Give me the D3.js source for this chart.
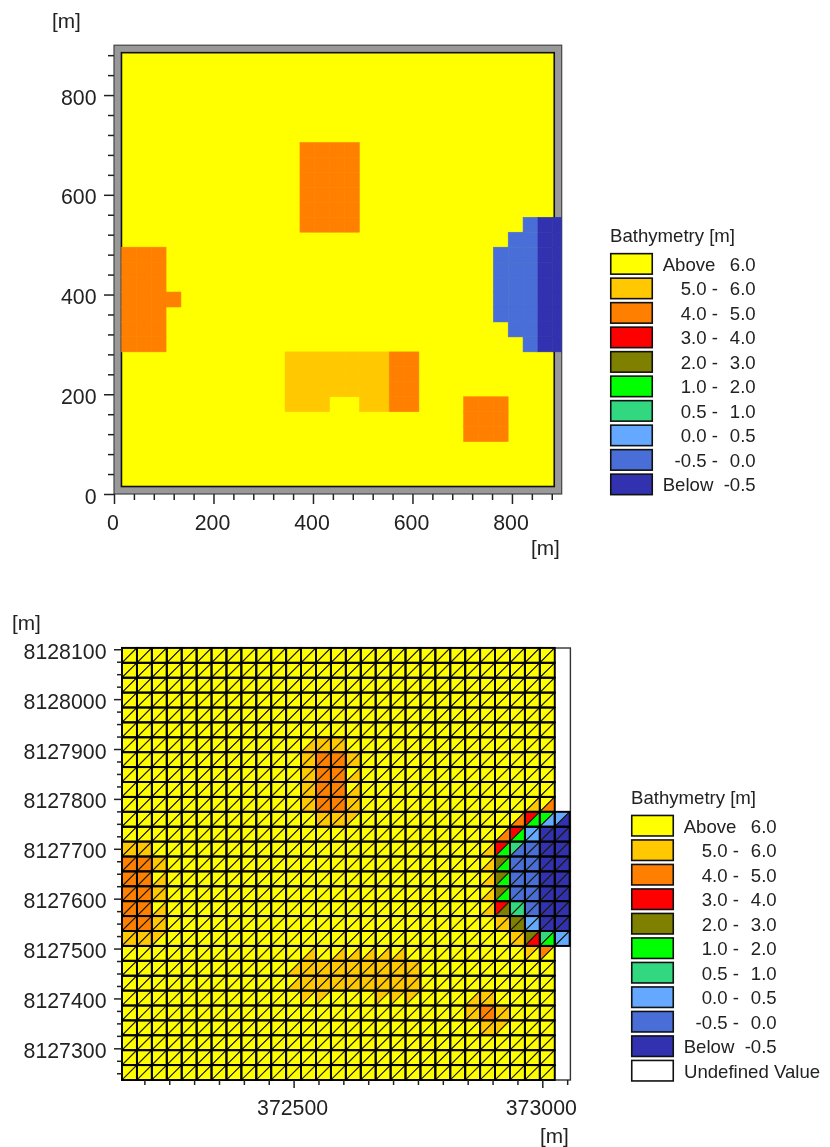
<!DOCTYPE html>
<html><head><meta charset="utf-8">
<script src="https://cdn.jsdelivr.net/npm/d3@7/dist/d3.min.js"></script>
<style>
html,body{margin:0;padding:0;background:#fff}
svg{display:block;filter:blur(0.35px)}
text{font-family:"Liberation Sans",Arial,sans-serif;fill:#222}
</style></head><body>
<svg id="c" width="830" height="1147"></svg>
<script>
const classColors=["#ffff00","#ffc800","#ff8000","#ff0000","#808000","#00ff00","#32d880","#64a8ff","#4a6ed8","#3232b0"];
const legendLeft=["Above","5.0 -","4.0 -","3.0 -","2.0 -","1.0 -","0.5 -","0.0 -","-0.5 -","Below"];
const legendRight=["6.0","6.0","5.0","4.0","3.0","2.0","1.0","0.5","0.0","-0.5"];
const legendTitle="Bathymetry [m]";
const undefinedLabel="Undefined Value";

// Gridded surface, bottom row first; one class digit per 30 m cell, "." = no data
const surfaceRows=[
"00000000000000000000000000000.",
"00000000000000000000000000000.",
"00000000000000000000000000000.",
"00000000000000000000000222000.",
"00000000000000000000000222000.",
"00000000000111001122000222000.",
"00000000000111111122000000000.",
"00000000000111111122000000000.",
"00000000000111111122000000000.",
"222000000000000000000000000899",
"222000000000000000000000008899",
"222000000000000000000000088899",
"222200000000000000000000088899",
"222000000000000000000000088899",
"222000000000000000000000088899",
"222000000000000000000000088899",
"000000000000000000000000008899",
"000000000000222200000000000899",
"00000000000022220000000000000.",
"00000000000022220000000000000.",
"00000000000022220000000000000.",
"00000000000022220000000000000.",
"00000000000022220000000000000.",
"00000000000000000000000000000.",
"00000000000000000000000000000.",
"00000000000000000000000000000.",
"00000000000000000000000000000.",
"00000000000000000000000000000.",
"00000000000000000000000000000."
];
const surfaceOrigin=15, surfaceCellX=29.9, surfaceCellY=30;
const topMajorX=[0,200,400,600,800], topMajorY=[0,200,400,600,800];
const topMinor=[40,80,120,160,240,280,320,360,440,480,520,560,640,680,720,760,840,880];

// Triangular mesh: [row, col, upper-left class, lower-right class]; other cells are class 0
const meshRows=29, meshCols=29, meshExtraColRows=[9,10,11,12,13,14,15,16,17];
const meshX0=372155, meshY0=8127236.5, meshDx=30, meshDy=29.87;
const meshPatches=[
[3,24,1,1],[3,25,1,0],[4,23,1,1],[4,24,2,2],[4,25,1,1],[5,23,0,1],[5,24,1,1],
[5,12,1,0],[5,13,1,0],[5,17,1,0],[5,18,1,0],[5,19,1,0],
[6,11,0,1],[6,12,1,1],[6,13,1,1],[6,14,1,1],[6,15,1,1],[6,16,1,1],[6,17,1,1],[6,18,1,1],[6,19,1,1],
[7,11,0,1],[7,12,1,1],[7,13,1,1],[7,14,1,1],[7,15,1,1],[7,16,1,1],[7,17,1,1],[7,18,1,1],[7,19,1,1],
[8,12,0,1],[8,14,0,1],[8,15,0,1],[8,16,0,1],[8,17,0,1],[8,18,0,1],
[8,27,1,0],[8,28,2,0],
[9,0,1,1],[9,1,1,1],[9,2,1,0],
[9,26,1,1],[9,27,4,3],[9,28,6,5],[9,29,7,7],
[10,0,2,2],[10,1,2,2],[10,2,1,1],
[10,25,1,1],[10,26,4,4],[10,27,7,7],[10,28,9,9],[10,29,9,9],
[11,0,2,2],[11,1,2,2],[11,2,0,1],
[11,24,0,1],[11,25,3,4],[11,26,6,6],[11,27,8,8],[11,28,9,9],[11,29,9,9],
[12,0,2,2],[12,1,2,2],[12,2,1,1],
[12,24,0,1],[12,25,4,5],[12,26,8,8],[12,27,8,8],[12,28,9,9],[12,29,9,9],
[13,0,2,2],[13,1,2,2],[13,2,0,1],
[13,24,0,1],[13,25,4,5],[13,26,8,8],[13,27,8,8],[13,28,9,9],[13,29,9,9],
[14,0,2,2],[14,1,2,2],[14,2,1,1],
[14,24,0,1],[14,25,4,5],[14,26,8,8],[14,27,8,8],[14,28,9,9],[14,29,9,9],
[15,0,1,1],[15,1,1,1],
[15,24,0,1],[15,25,3,5],[15,26,6,8],[15,27,8,8],[15,28,9,9],[15,29,9,9],
[16,25,0,2],[16,26,3,5],[16,27,7,7],[16,28,9,9],[16,29,9,9],
[17,13,1,1],[17,14,1,1],[17,15,1,0],
[17,26,0,2],[17,27,3,5],[17,28,5,7],[17,29,7,9],
[18,12,1,1],[18,13,2,2],[18,14,2,2],[18,15,1,1],[18,27,0,1],[18,28,0,2],
[19,12,1,1],[19,13,2,2],[19,14,2,2],[19,15,0,1],
[20,12,1,1],[20,13,2,2],[20,14,2,2],[20,15,0,1],
[21,12,1,1],[21,13,2,2],[21,14,2,2],[21,15,1,1],
[22,12,0,1],[22,13,1,1],[22,14,1,1]
];
const meshMajorX=[372500,373000];
const meshMinorX=[372200,372250,372300,372350,372400,372450,372550,372600,372650,372700,372750,372800,372850,372900,372950,373050];
const meshMajorY=[8127300,8127400,8127500,8127600,8127700,8127800,8127900,8128000,8128100];
const meshMinorY=[8127250,8127275,8127325,8127350,8127375,8127425,8127450,8127475,8127525,8127550,8127575,8127625,8127650,8127675,8127725,8127750,8127775,8127825,8127850,8127875,8127925,8127950,8127975,8128025,8128050,8128075];

const svg=d3.select("#c");
const FS=21.3, LFS=18.6, UFS=20.8;
const INK="#222";

function axes(g,xs,ys,maj,minX,minY,majY,lenMaj,lenMin,fmt,labelGap){
  const ax=[[d3.axisBottom(xs).tickValues(maj).tickSize(lenMaj).tickFormat(fmt),ys.range()[0],"x"],
            [d3.axisBottom(xs).tickValues(minX).tickSize(lenMin).tickFormat(""),ys.range()[0],"x"],
            [d3.axisLeft(ys).tickValues(majY).tickSize(lenMaj).tickFormat(fmt),xs.range()[0],"y"],
            [d3.axisLeft(ys).tickValues(minY).tickSize(lenMin).tickFormat(""),xs.range()[0],"y"]];
  ax.forEach(([a,p,k])=>{
    const s=g.append("g").attr("transform",k==="x"?`translate(0,${p})`:`translate(${p},0)`).call(a);
    s.select(".domain").remove();
    s.selectAll("line").attr("stroke",INK).attr("stroke-width",1.5);
    s.selectAll("text").style("font-size",FS+"px").style("font-family",'"Liberation Sans",Arial,sans-serif').attr("fill",INK);
    if(k==="x") s.selectAll("text").attr("y",labelGap).attr("dy",0).attr("dx",-1.5);
    else s.selectAll("text").attr("x",-lenMaj-7.5).attr("dy",9);
  });
}

function legend(g,x,y,withUndefined){
  g.append("text").attr("x",x).attr("y",y).style("font-size",LFS+"px").text(legendTitle);
  const step=24.5, y0=y+11.2;
  const items=legendLeft.map((l,i)=>({l,r:legendRight[i],c:classColors[i]}));
  if(withUndefined) items.push({u:undefinedLabel,c:"#ffffff"});
  const rows=g.selectAll("g.row").data(items).join("g").attr("class","row")
    .attr("transform",(d,i)=>`translate(${x},${y0+i*step})`);
  rows.append("rect").attr("x",0.75).attr("y",0.75).attr("width",41.5).attr("height",20.5)
    .attr("fill",d=>d.c).attr("stroke","#111").attr("stroke-width",1.6);
  rows.filter(d=>d.u).append("text").attr("x",53).attr("y",18).style("font-size",LFS+"px").text(d=>d.u);
  const std=rows.filter(d=>!d.u);
  std.append("text").attr("x",d=>d.l==="Above"||d.l==="Below"?52.7:108).attr("y",18)
    .attr("text-anchor",d=>d.l==="Above"||d.l==="Below"?"start":"end").style("font-size",LFS+"px").text(d=>d.l);
  std.append("text").attr("x",145.7).attr("y",18).attr("text-anchor","end").style("font-size",LFS+"px").text(d=>d.r);
}

function unit(x,y){svg.append("text").attr("x",x).attr("y",y).style("font-size",UFS+"px").text("[m]");}

/* ---------- top chart ---------- */
const tx=d3.scaleLinear([0,900],[114,561.7]);
const ty=d3.scaleLinear([0,900],[494,45.2]);
const topG=svg.append("g");
topG.append("rect").attr("x",tx(0)).attr("y",ty(900)).attr("width",tx(900)-tx(0)).attr("height",ty(0)-ty(900))
  .attr("fill","#999").attr("stroke","#444").attr("stroke-width",1.2);
topG.append("rect").attr("x",tx(15)).attr("y",ty(885)).attr("width",tx(885)-tx(15)).attr("height",ty(15)-ty(885))
  .attr("fill",classColors[0]).attr("stroke","#111").attr("stroke-width",1.6);
svg.append("defs").append("clipPath").attr("id","tc").append("rect")
  .attr("x",tx(0)).attr("y",ty(900)).attr("width",tx(900)-tx(0)).attr("height",ty(0)-ty(900));
const surfaceCells=[];
surfaceRows.forEach((row,r)=>[...row].forEach((ch,c)=>{if(ch!=="."&&ch!=="0")surfaceCells.push({r,c,v:+ch});}));
topG.append("g").attr("clip-path","url(#tc)").selectAll("rect").data(surfaceCells).join("rect")
  .attr("x",d=>tx(surfaceOrigin+d.c*surfaceCellX))
  .attr("y",d=>ty(surfaceOrigin+(d.r+1)*surfaceCellY))
  .attr("width",d=>tx(surfaceOrigin+(d.c+1)*surfaceCellX)-tx(surfaceOrigin+d.c*surfaceCellX))
  .attr("height",d=>ty(surfaceOrigin+d.r*surfaceCellY)-ty(surfaceOrigin+(d.r+1)*surfaceCellY))
  .attr("fill",d=>classColors[d.v]).attr("stroke",d=>classColors[d.v]).attr("stroke-width",0.5);
axes(topG,tx,ty,topMajorX,topMinor,topMinor,topMajorY,10,6,d3.format("d"),36);
unit(52,28);unit(531,555);
legend(svg.append("g"),610,241.7,false);

/* ---------- bottom chart ---------- */
const bx=d3.scaleLinear([372155,373056.5],[122,570.4]);
const by=d3.scaleLinear([8127236.5,8128102.5],[1080,648]);
const botG=svg.append("g");
botG.append("rect").attr("x",bx.range()[0]).attr("y",by.range()[1]).attr("width",bx.range()[1]-bx.range()[0]).attr("height",by.range()[0]-by.range()[1])
  .attr("fill","#fff").attr("stroke","#333").attr("stroke-width",1.4);
const patchMap=new Map(meshPatches.map(p=>[p[0]+":"+p[1],p]));
const tris=[], quads=[];
for(let r=0;r<meshRows;r++){
  const n=meshCols+(meshExtraColRows.includes(r)?1:0);
  for(let c=0;c<n;c++){
    const p=patchMap.get(r+":"+c)||[r,c,0,0];
    const x0=meshX0+c*meshDx,x1=x0+meshDx,y0=meshY0+r*meshDy,y1=y0+meshDy;
    tris.push({v:p[2],pts:[[x0,y0],[x0,y1],[x1,y1]]});
    tris.push({v:p[3],pts:[[x0,y0],[x1,y0],[x1,y1]]});
    quads.push({x0,x1,y0,y1});
  }
}
const triLine=d3.line().x(d=>bx(d[0])).y(d=>by(d[1])).curve(d3.curveLinearClosed);
botG.append("g").selectAll("path").data(tris).join("path")
  .attr("d",d=>triLine(d.pts)).attr("fill",d=>classColors[d.v])
  .attr("stroke","#1a1a00").attr("stroke-width",1.05).attr("stroke-linejoin","round");
botG.append("g").selectAll("rect").data(quads).join("rect")
  .attr("x",d=>bx(d.x0)).attr("y",d=>by(d.y1)).attr("width",d=>bx(d.x1)-bx(d.x0)).attr("height",d=>by(d.y0)-by(d.y1))
  .attr("fill","none").attr("stroke","#000").attr("stroke-width",1.9);
axes(botG,bx,by,meshMajorX,meshMinorX,meshMinorY,meshMajorY,8,5,d3.format("d"),35);
unit(12,630);unit(540,1143);
legend(svg.append("g"),631,803.5,true);
</script>
</body></html>
